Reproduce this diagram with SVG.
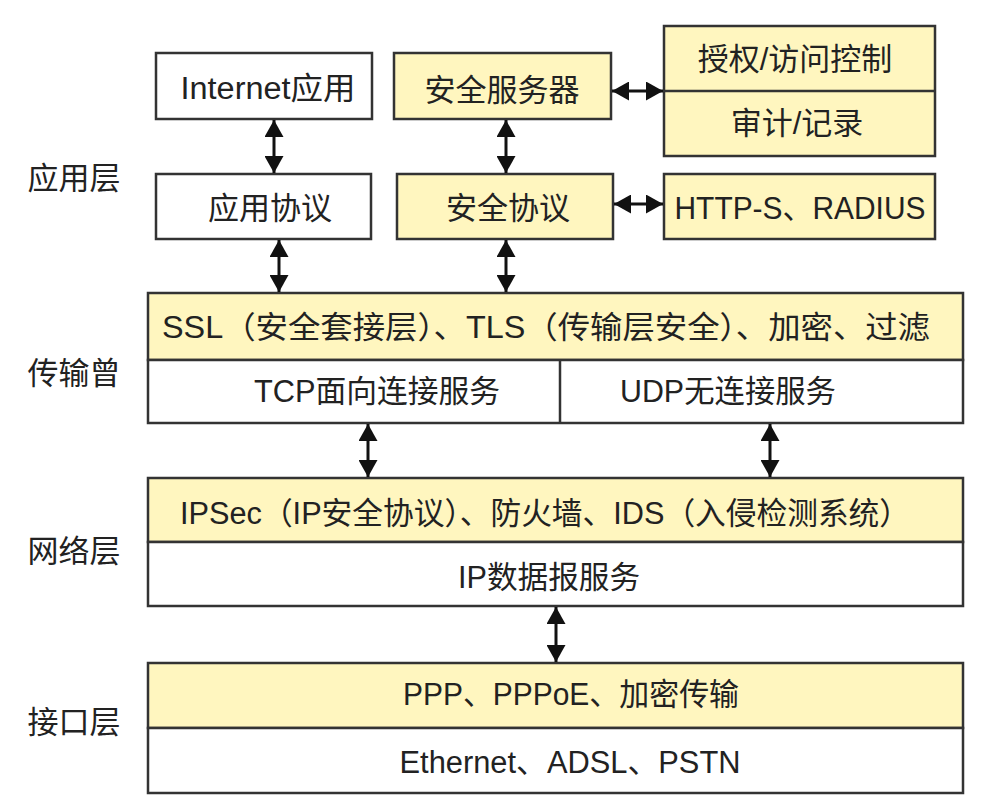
<svg xmlns="http://www.w3.org/2000/svg" width="990" height="803" viewBox="0 0 990 803">
<defs>
<style>
.w{fill:#ffffff;stroke:#333;stroke-width:2.5}
.y{fill:#fff6bf;stroke:#333;stroke-width:2.5}
.d{stroke:#333;stroke-width:2.5;fill:none}
text{font-family:"Liberation Sans","Noto Sans CJK SC",sans-serif;font-size:31px;fill:#222;text-anchor:middle;dominant-baseline:central}
.c{stroke:#111;stroke-width:3;fill:none;marker-start:url(#ah);marker-end:url(#ah)}
</style>
<marker id="ah" viewBox="0 0 17 19" refX="17" refY="9.5" markerWidth="17" markerHeight="19" markerUnits="userSpaceOnUse" orient="auto-start-reverse">
<path d="M0,0 L17,9.5 L0,19 Z" fill="#111"/>
</marker>
</defs>
<rect width="990" height="803" fill="#ffffff"/>
<g id="labels">
<text x="74" y="178">应用层</text>
<text x="74" y="373">传输曾</text>
<text x="74" y="551">网络层</text>
<text x="74" y="722">接口层</text>
</g>
<g id="internet-app"><rect class="w" x="156" y="53" width="216" height="66"/><text x="268" y="88" textLength="175" lengthAdjust="spacingAndGlyphs">Internet应用</text></g>
<g id="sec-server"><rect class="y" x="394" y="53" width="217" height="66"/><text x="502" y="90">安全服务器</text></g>
<g id="auth"><rect class="y" x="664" y="26" width="271" height="130"/><line class="d" x1="664" y1="91" x2="935" y2="91"/><text x="795" y="59">授权/访问控制</text><text x="797" y="123">审计/记录</text></g>
<g id="app-proto"><rect class="w" x="156" y="174" width="215" height="65"/><text x="270" y="208">应用协议</text></g>
<g id="sec-proto"><rect class="y" x="397" y="174" width="216" height="65"/><text x="508" y="208">安全协议</text></g>
<g id="https"><rect class="y" x="664" y="174" width="271" height="65"/><text x="800" y="208" textLength="251" lengthAdjust="spacingAndGlyphs">HTTP-S、RADIUS</text></g>
<g id="transport"><rect class="y" x="148" y="293" width="815" height="67"/><rect class="w" x="148" y="360" width="815" height="63"/><line class="d" x1="560" y1="360" x2="560" y2="423"/>
<text x="546" y="327" textLength="768" lengthAdjust="spacingAndGlyphs">SSL（安全套接层）、TLS（传输层安全）、加密、过滤</text>
<text x="377" y="391" textLength="246" lengthAdjust="spacingAndGlyphs">TCP面向连接服务</text><text x="728" y="391" textLength="216" lengthAdjust="spacingAndGlyphs">UDP无连接服务</text></g>
<g id="network"><rect class="y" x="148" y="478" width="815" height="64"/><rect class="w" x="148" y="542" width="815" height="64"/>
<text x="545" y="513" textLength="730" lengthAdjust="spacingAndGlyphs">IPSec（IP安全协议）、防火墙、IDS（入侵检测系统）</text>
<text x="549" y="577" textLength="182" lengthAdjust="spacingAndGlyphs">IP数据报服务</text></g>
<g id="interface"><rect class="y" x="148" y="663" width="815" height="65"/><rect class="w" x="148" y="728" width="815" height="65"/>
<text x="571" y="694" textLength="336" lengthAdjust="spacingAndGlyphs">PPP、PPPoE、加密传输</text>
<text x="570" y="762" textLength="341" lengthAdjust="spacingAndGlyphs">Ethernet、ADSL、PSTN</text></g>
<g id="connectors">
<line class="c" x1="274" y1="120" x2="274" y2="173"/>
<line class="c" x1="506" y1="120" x2="506" y2="173"/>
<line class="c" x1="612" y1="91" x2="663" y2="91"/>
<line class="c" x1="614" y1="204" x2="663" y2="204"/>
<line class="c" x1="279" y1="240" x2="279" y2="292"/>
<line class="c" x1="506" y1="240" x2="506" y2="292"/>
<line class="c" x1="368" y1="424" x2="368" y2="477"/>
<line class="c" x1="770" y1="424" x2="770" y2="477"/>
<line class="c" x1="556" y1="607" x2="556" y2="662"/>
</g>
</svg>
